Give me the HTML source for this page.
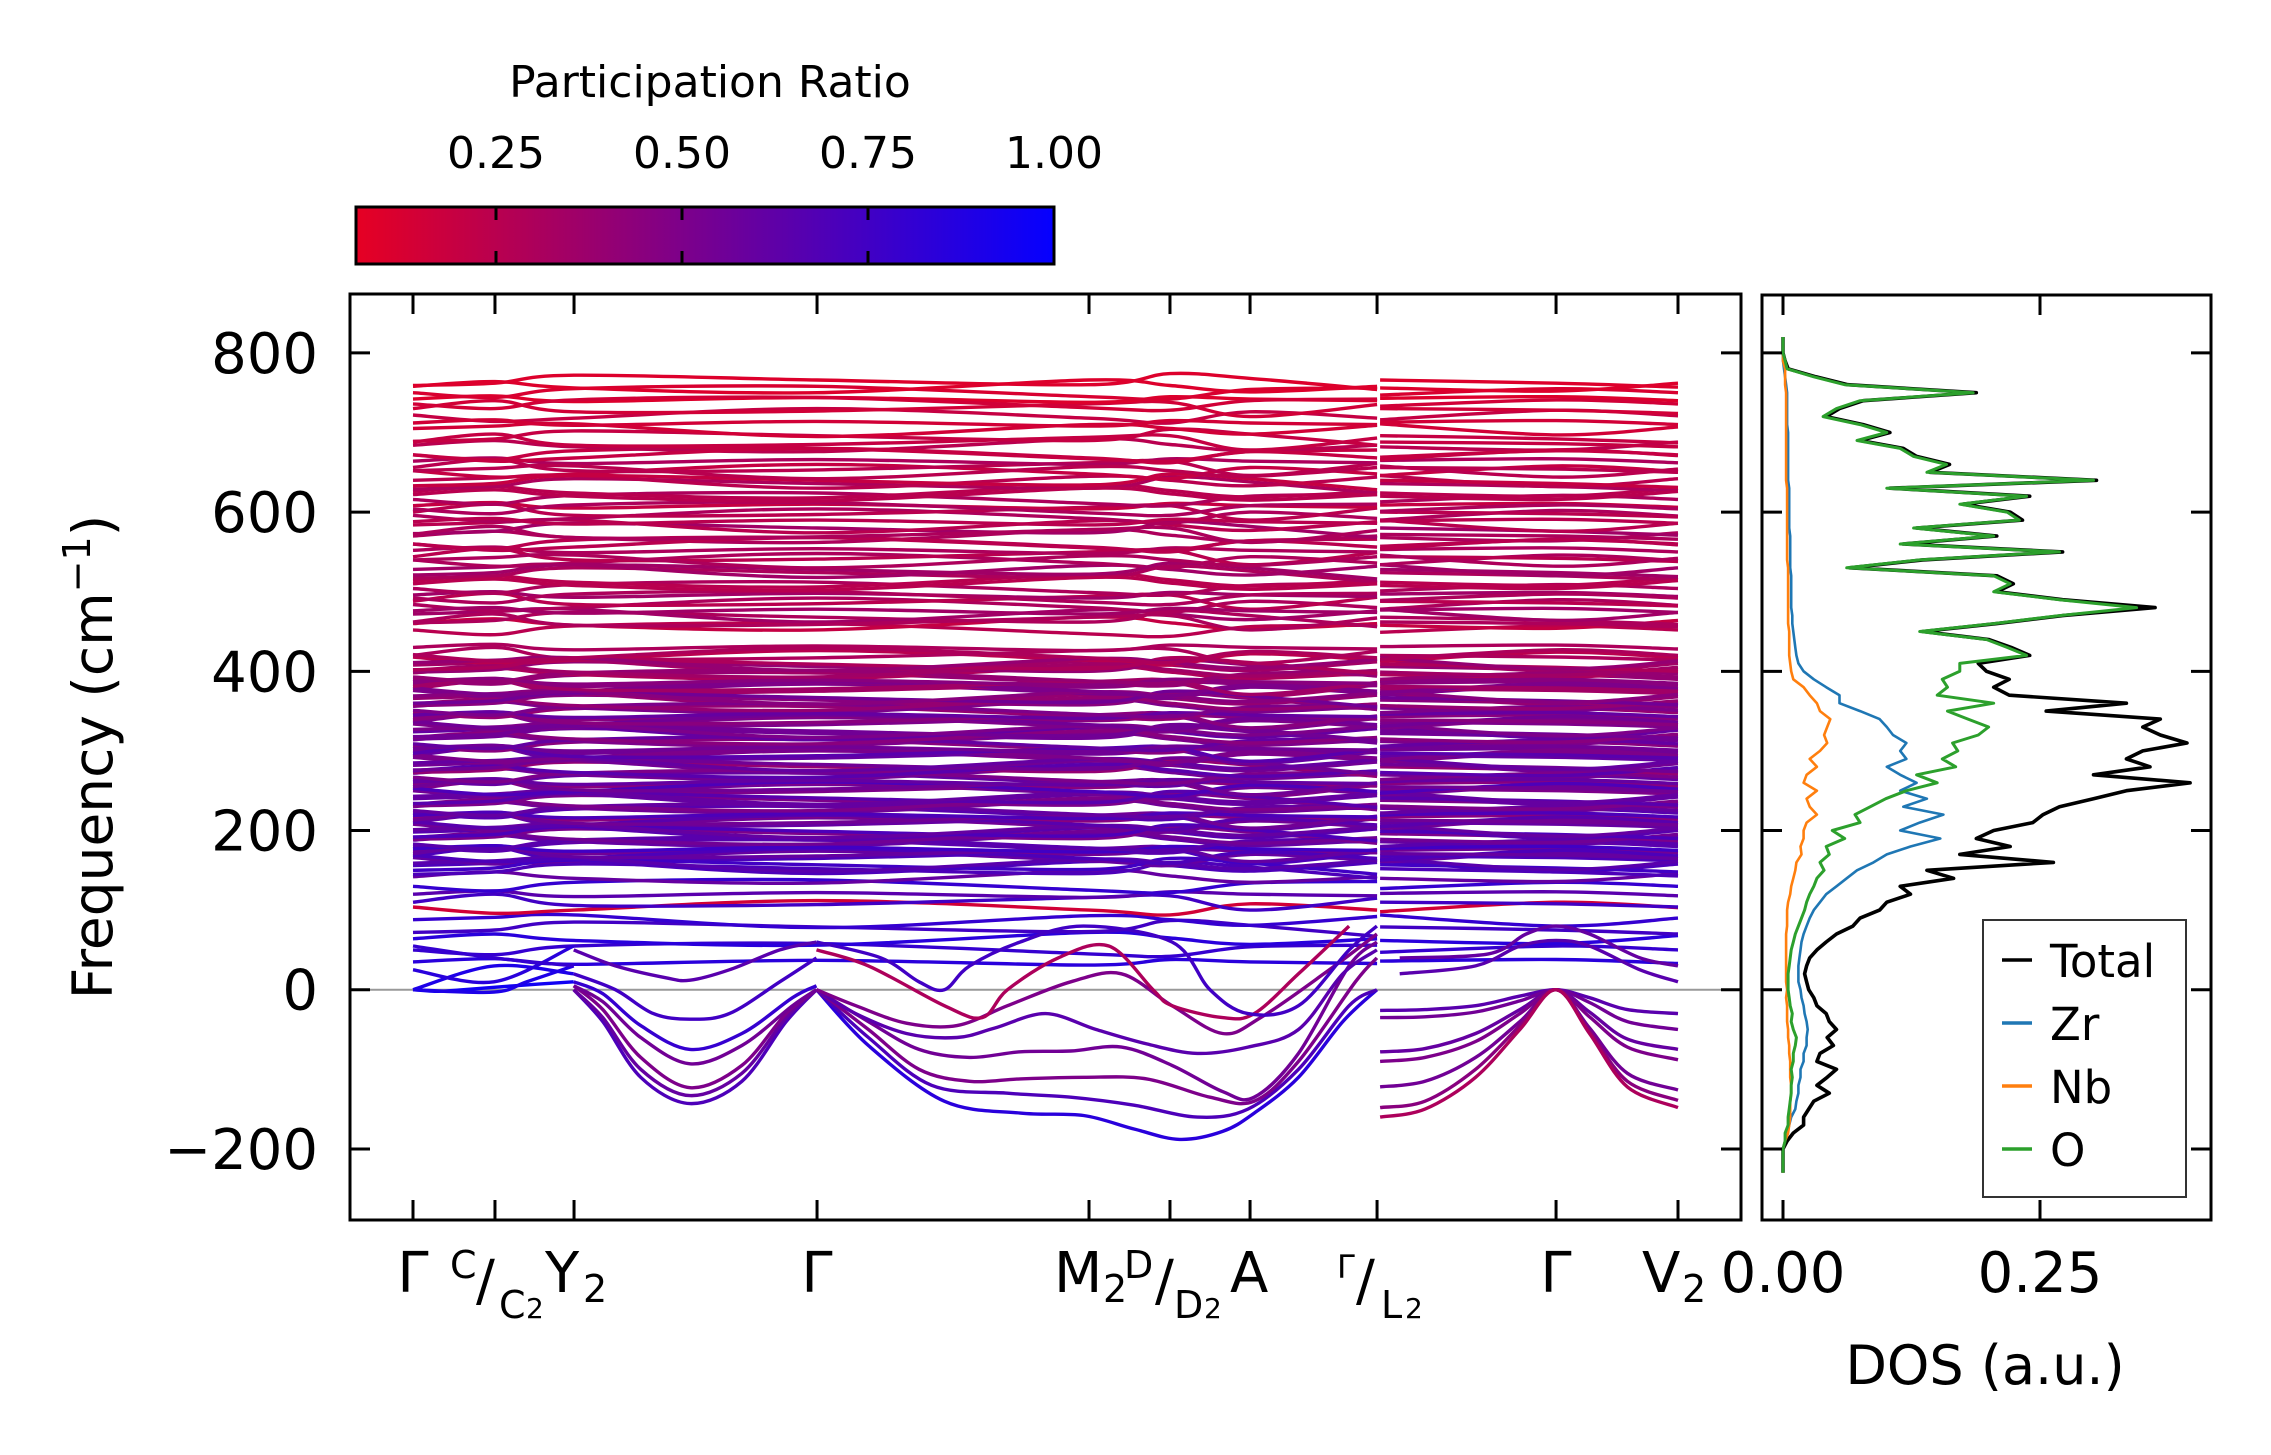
<!DOCTYPE html>
<html><head><meta charset="utf-8"><style>
html,body{margin:0;padding:0;background:#fff}
svg{display:block}
text{font-family:"DejaVu Sans","Liberation Sans",sans-serif;fill:#000}
</style></head><body>
<svg id="fig" width="2271" height="1455" viewBox="0 0 2271 1455" xmlns="http://www.w3.org/2000/svg">
<defs>
<clipPath id="mainClip"><rect x="350" y="294" width="1391" height="926"/></clipPath>
<clipPath id="dosClip"><rect x="1762" y="295" width="449" height="925"/></clipPath>
<linearGradient id="cbGrad" x1="0" x2="1" y1="0" y2="0"></linearGradient>
</defs>
<g id="colorbar">
<text x="710" y="97" font-size="44" text-anchor="middle">Participation Ratio</text>
<rect x="356" y="207" width="698" height="57" fill="url(#cbGrad)" stroke="#000" stroke-width="3"/>
<g id="cbTicks"></g>
</g>
<g id="mainAxes">
<line x1="350" y1="989.8" x2="1741" y2="989.8" stroke="#999" stroke-width="2"/>
<g id="bands" clip-path="url(#mainClip)"></g>
<rect x="350" y="294" width="1391" height="926" fill="none" stroke="#000" stroke-width="3"/>
<g id="mainTicks"></g>
<g id="xLabels" font-size="56">
<text x="413" y="1292" text-anchor="middle">Γ</text>
<g><text x="450" y="1278" font-size="38">C</text><text x="476" y="1300">/</text><text x="499" y="1318" font-size="38">C</text><text x="526" y="1318" font-size="28">2</text></g>
<g><text x="545" y="1292">Y</text><text x="583" y="1302" font-size="38">2</text></g>
<text x="817" y="1292" text-anchor="middle">Γ</text>
<g><text x="1054" y="1292">M</text><text x="1103" y="1302" font-size="38">2</text></g>
<g><text x="1124" y="1278" font-size="38">D</text><text x="1155" y="1300">/</text><text x="1174" y="1318" font-size="38">D</text><text x="1204" y="1318" font-size="28">2</text></g>
<text x="1230" y="1292">A</text>
<g><text x="1337" y="1278" font-size="32">Γ</text><text x="1356" y="1300">/</text><text x="1381" y="1318" font-size="38">L</text><text x="1405" y="1318" font-size="28">2</text></g>
<text x="1556" y="1292" text-anchor="middle">Γ</text>
<g><text x="1642" y="1292">V</text><text x="1682" y="1302" font-size="38">2</text></g>
</g>
<text transform="translate(112,757) rotate(-90)" font-size="55" text-anchor="middle">Frequency (cm<tspan dy="-22" font-size="38">−1</tspan><tspan dy="22">)</tspan></text>
</g>
<g id="dosAxes">
<g id="dosLines" clip-path="url(#dosClip)"></g>
<rect x="1762" y="295" width="449" height="925" fill="none" stroke="#000" stroke-width="3"/>
<g id="dosTicks"></g>
<text x="1985" y="1384" font-size="54" text-anchor="middle">DOS (a.u.)</text>
<g id="legend">
<rect x="1983" y="920" width="203" height="277" fill="#fff" stroke="#333" stroke-width="2"/>
</g>
</g>
</svg>
<script>
// ---------- data ----------
const kNodes = [0, 0.0648, 0.1273, 0.3194, 0.5344, 0.5984, 0.6617, 0.7621, 0.7645, 0.9036, 1];
const kTicks = [0, 0.0648, 0.1273, 0.3194, 0.5344, 0.5984, 0.6617, 0.7621, 0.9036, 1];
const yTickValues = [-200, 0, 200, 400, 600, 800];
const yTickLabels = ["\u2212200", "0", "200", "400", "600", "800"];
const cbTickValues = [0.25, 0.5, 0.75, 1.0];
const cbTickLabels = ["0.25", "0.50", "0.75", "1.00"];
const bandBase = [
  35,50,62,75,88,100,110,120,130,140,148,
  156,162,168,174,180,186,192,198,204,210,216,222,228,234,240,
  246,252,258,264,270,276,282,288,294,300,306,312,318,324,330,
  336,342,348,354,360,366,372,378,384,390,396,402,408,414,420,
  430,452,458,464,472,480,488,496,504,512,520,528,536,544,552,
  560,568,576,584,592,600,608,616,624,632,640,648,656,664,672,
  682,692,705,718,730,742,750,756,762
];
const bandPR = [
  .85,.8,.85,.75,.8,.15,.75,.65,.8,.6,.7,
  .7,.6,.7,.55,.65,.6,.5,.65,.55,.6,.45,.65,.55,.5,.6,
  .55,.5,.45,.6,.55,.4,.55,.5,.6,.55,.45,.5,.55,.6,.5,
  .5,.45,.4,.5,.45,.4,.5,.35,.45,.4,.3,.4,.35,.25,.3,
  .3,.25,.2,.3,.35,.3,.25,.35,.3,.25,.3,.35,.3,.25,.3,
  .25,.3,.35,.25,.3,.25,.2,.3,.25,.3,.25,.2,.25,.3,.2,
  .25,.2,.15,.2,.15,.1,.12,.1,.1
];
const bandBase2 = [
  153,159,165,171,177,183,189,195,201,207,213,219,225,231,237,
  243,249,255,261,267,273,279,285,291,297,303,309,315,321,327,
  333,339,345,351,357,363,369,375,381,387,393,399,405,411,417,
  462,476,492,508,524,540,556,572,588,604,620,636,652,668,688,712,736
];
const bandPR2 = [
  .75,.65,.7,.6,.75,.65,.55,.7,.6,.65,.55,.7,.6,.5,.65,
  .6,.7,.55,.6,.5,.65,.55,.6,.5,.65,.55,.6,.45,.55,.5,
  .55,.45,.6,.5,.4,.55,.45,.5,.35,.45,.4,.35,.3,.4,.3,
  .3,.35,.3,.25,.35,.3,.25,.3,.25,.3,.25,.2,.25,.2,.2,.15,.15
];
const wigglePatterns = [
  [0,4,-3,2,-4,3,0,-2,1,3,-2],
  [0,-6,5,8,-5,-8,4,6,-3,5,0],
  [2,8,0,-6,10,3,-5,2,0,-4,6],
  [-3,0,10,4,-2,12,6,-8,4,0,-5],
  [0,3,6,-10,5,0,-7,4,6,-8,2],
  [4,-4,0,12,0,-6,8,0,-2,10,3],
  [0,10,-4,-3,6,8,-10,5,0,-2,-6]
];
const softBands = [
  [[.127,0],[.15,-40],[.18,-110],[.219,-143],[.26,-115],[.295,-40],[.319,0]],
  [[.127,0],[.15,-35],[.18,-100],[.219,-133],[.26,-105],[.295,-35],[.319,0]],
  [[.127,5],[.15,-25],[.18,-85],[.219,-123],[.26,-95],[.295,-30],[.319,0]],
  [[.127,5],[.15,-15],[.18,-60],[.219,-93],[.26,-70],[.30,-20],[.319,0]],
  [[.127,10],[.15,-5],[.18,-45],[.219,-75],[.26,-55],[.30,-10],[.319,5]],
  [[.127,20],[.16,0],[.19,-30],[.219,-37],[.25,-30],[.29,10],[.319,40]],
  [[.127,50],[.16,30],[.20,15],[.219,12],[.25,25],[.29,50],[.319,60]],
  [[.319,0],[.36,-70],[.42,-140],[.48,-155],[.53,-158],[.57,-175],[.606,-188],[.64,-178],[.665,-155],[.70,-110],[.735,-40],[.762,0]],
  [[.319,0],[.36,-60],[.41,-120],[.47,-130],[.52,-135],[.57,-145],[.62,-160],[.66,-150],[.70,-100],[.74,-20],[.762,0]],
  [[.319,0],[.36,-50],[.40,-100],[.44,-115],[.48,-112],[.53,-110],[.58,-112],[.63,-135],[.665,-140],[.70,-90],[.745,10],[.762,40]],
  [[.319,0],[.36,-40],[.40,-75],[.44,-85],[.48,-78],[.52,-77],[.56,-72],[.60,-95],[.64,-128],[.665,-135],[.70,-80],[.74,30],[.762,60]],
  [[.319,0],[.35,-30],[.39,-55],[.43,-60],[.46,-48],[.50,-30],[.54,-50],[.58,-68],[.62,-80],[.66,-72],[.70,-50],[.735,20],[.762,50]],
  [[.319,0],[.35,-20],[.39,-42],[.43,-45],[.47,-20],[.52,10],[.56,20],[.60,-20],[.64,-55],[.67,-35],[.72,20],[.762,70]],
  [[.319,50],[.36,30],[.42,-20],[.45,-35],[.47,0],[.51,40],[.55,55],[.585,0],[.60,-20],[.64,-35],[.665,-30],[.70,20],[.74,80]],
  [[.319,60],[.37,40],[.40,10],[.42,0],[.44,30],[.48,60],[.53,80],[.60,60],[.63,0],[.66,-30],[.70,-20],[.74,50],[.762,80]],
  [[0,0],[.02,-2],[.04,0],[.08,5],[.127,10]],
  [[0,0],[.064,30],[.127,20]],
  [[0,0],[.064,-3],[.09,10],[.127,30]],
  [[0,25],[.064,10],[.127,55]],
  [[0,55],[.064,40],[.127,30]],
  [[.7645,-26],[.80,-25],[.84,-20],[.875,-8],[.9036,0],[.93,-10],[.96,-25],[1,-30]],
  [[.7645,-35],[.80,-34],[.84,-28],[.875,-14],[.9036,0],[.93,-16],[.96,-40],[1,-50]],
  [[.7645,-78],[.80,-74],[.84,-55],[.875,-25],[.9036,0],[.93,-28],[.96,-62],[1,-75]],
  [[.7645,-90],[.80,-85],[.84,-65],[.875,-30],[.9036,0],[.93,-34],[.96,-72],[1,-88]],
  [[.7645,-122],[.80,-115],[.84,-85],[.875,-40],[.9036,0],[.93,-48],[.96,-105],[1,-126]],
  [[.7645,-148],[.80,-140],[.84,-100],[.875,-45],[.9036,0],[.93,-52],[.96,-115],[1,-139]],
  [[.7645,-160],[.80,-150],[.84,-110],[.875,-50],[.9036,0],[.93,-55],[.96,-122],[1,-148]],
  [[.78,20],[.84,30],[.875,55],[.9036,62],[.93,55],[.97,25],[1,10]],
  [[.78,40],[.85,45],[.88,70],[.9036,80],[.93,70],[.97,40],[1,30]]
];
const softPR = [.7,.6,.5,.55,.8,.75,.65,.85,.7,.5,.55,.65,.5,.3,.75,.95,.9,.9,.85,.8,.65,.55,.6,.5,.55,.45,.3,.65,.6];
const dosFreqStart = -230;
const dosFreqStep = 10;
const dosTotal = [0,0,0,0,
 .004,.010,.020,.020,.025,.030,.045,.033,.043,.052,
 .033,.036,.049,.043,.052,.045,.042,.033,.030,.025,
 .023,.021,.023,.026,.033,.042,.052,.068,.075,.094,
 .101,.124,.114,.166,.140,.263,.172,.221,.188,.205,
 .243,.253,.269,.302,.334,.396,.302,.357,.334,.350,
 .393,.367,.350,.367,.256,.334,.220,.205,.220,.198,
 .190,.240,.222,.200,.136,.208,.272,.362,.272,.208,
 .224,.208,.065,.136,.272,.117,.208,.130,.233,.221,
 .175,.240,.104,.305,.143,.162,.130,.117,.075,.104,
 .078,.042,.055,.078,.188,.063,.032,.005,.002,0,
 0,0];
const dosZr = [0,0,0,0,
 .002,.004,.006,.008,.012,.013,.015,.015,.017,.017,
 .020,.020,.023,.023,.024,.023,.021,.020,.018,.017,
 .015,.015,.015,.016,.017,.018,.020,.023,.026,.030,
 .036,.042,.052,.062,.072,.088,.101,.124,.153,.114,
 .133,.156,.117,.140,.114,.130,.114,.101,.120,.114,
 .120,.107,.101,.094,.075,.055,.055,.042,.030,.020,
 .015,.013,.012,.011,.010,.009,.009,.008,.008,.008,
 .008,.008,.007,.007,.007,.007,.007,.006,.006,.006,
 .006,.006,.006,.005,.005,.005,.005,.005,.005,.005,
 .004,.004,.004,.004,.004,.003,.002,.001,0,0,
 0,0];
const dosNb = [0,0,0,0,
 .002,.005,.006,.007,.007,.007,.008,.008,.007,.007,
 .007,.006,.006,.005,.005,.004,.004,.004,.003,.004,
 .003,.003,.003,.003,.003,.003,.003,.004,.004,.004,
 .005,.007,.008,.010,.012,.013,.018,.017,.020,.020,
 .023,.033,.026,.023,.033,.020,.023,.033,.026,.036,
 .043,.040,.043,.046,.036,.033,.026,.020,.010,.008,
 .007,.006,.006,.006,.006,.005,.005,.005,.005,.005,
 .005,.005,.005,.004,.004,.004,.004,.004,.004,.004,
 .004,.004,.004,.003,.003,.003,.003,.003,.003,.003,
 .003,.003,.003,.003,.003,.002,.002,.002,0,0,
 0,0];
const dosO = [0,0,0,0,
 .002,.002,.005,.005,.006,.007,.008,.008,.009,.008,
 .010,.010,.012,.013,.010,.008,.009,.007,.006,.005,
 .005,.005,.006,.007,.008,.010,.012,.015,.018,.021,
 .023,.026,.030,.033,.040,.036,.045,.042,.060,.048,
 .075,.070,.085,.100,.120,.150,.130,.168,.155,.170,
 .165,.190,.200,.180,.160,.205,.150,.160,.155,.172,
 .172,.237,.218,.198,.133,.205,.269,.344,.269,.205,
 .221,.205,.062,.133,.269,.114,.205,.127,.230,.218,
 .172,.237,.101,.302,.140,.159,.127,.114,.072,.101,
 .075,.039,.052,.075,.185,.060,.030,.004,.002,0,
 0,0];
const dosSeriesNames = ["Total", "Zr", "Nb", "O"];
const dosTickValues = [0, 0.25];
const dosTickLabels = ["0.00", "0.25"];

// ---------- scales ----------
const NS = "http://www.w3.org/2000/svg";
const xK = k => 413 + k * 1265;
const yF = f => 294 + (874 - f) * (925 / 1162);
const xD = v => 1783 + v * 1028;
const xCB = t => 1054 - (1 - t) * 744;
function prColor(t) {
  const r = Math.round(245 * (1 - t) + 5 * t);
  const b = Math.round(20 * (1 - t) + 255 * t);
  return "rgb(" + r + ",0," + b + ")";
}
function mk(tag, attrs, parent) {
  const el = document.createElementNS(NS, tag);
  for (const a in attrs) el.setAttribute(a, attrs[a]);
  parent.appendChild(el);
  return el;
}
function splinePath(pts) {
  if (pts.length < 2) return "";
  let d = "M" + pts[0][0].toFixed(1) + "," + pts[0][1].toFixed(1);
  for (let i = 0; i < pts.length - 1; i++) {
    const p0 = pts[Math.max(0, i - 1)], p1 = pts[i], p2 = pts[i + 1], p3 = pts[Math.min(pts.length - 1, i + 2)];
    const c1x = p1[0] + (p2[0] - p0[0]) / 6, c1y = p1[1] + (p2[1] - p0[1]) / 6;
    const c2x = p2[0] - (p3[0] - p1[0]) / 6, c2y = p2[1] - (p3[1] - p1[1]) / 6;
    d += "C" + c1x.toFixed(1) + "," + c1y.toFixed(1) + " " + c2x.toFixed(1) + "," + c2y.toFixed(1) + " " + p2[0].toFixed(1) + "," + p2[1].toFixed(1);
  }
  return d;
}

// ---------- colorbar ----------
const grad = document.getElementById("cbGrad");
[0.062, 0.25, 0.5, 0.75, 1].forEach(t => {
  mk("stop", {offset: ((t - 0.062) / (1 - 0.062)), "stop-color": prColor(t)}, grad);
});
const cbT = document.getElementById("cbTicks");
cbTickValues.forEach((v, i) => {
  const x = xCB(v);
  if (v < 1) {
    const t1 = mk("line", {x1: x, x2: x, y1: 207, y2: 220, stroke: "#000", "stroke-width": 3}, cbT);
    
    
    const t2 = mk("line", {x1: x, x2: x, y1: 251, y2: 264, stroke: "#000", "stroke-width": 3}, cbT);
    
    
  }
  const lb = mk("text", {x: x, y: 168, "font-size": 44, "text-anchor": "middle"}, cbT);
  lb.textContent = cbTickLabels[i];
  
  
});

// ---------- bands ----------
const bandsG = document.getElementById("bands");
function drawFlatBand(base, pr, pat) {
  const segA = [], segB = [];
  for (let j = 0; j < kNodes.length; j++) {
    const p = [xK(kNodes[j]), yF(base + pat[j])];
    if (j <= 7) segA.push(p); else segB.push(p);
  }
  const path = mk("path", {d: splinePath(segA) + splinePath(segB), fill: "none", stroke: prColor(pr), "stroke-width": 3.4}, bandsG);
  
  
}
bandBase.forEach((base, i) => drawFlatBand(base, bandPR[i], wigglePatterns[i % wigglePatterns.length]));
bandBase2.forEach((base, i) => drawFlatBand(base, bandPR2[i], wigglePatterns[(i + 3) % wigglePatterns.length]));
softBands.forEach((pts, i) => {
  const sp = pts.map(p => [xK(p[0]), yF(p[1])]);
  const path = mk("path", {d: splinePath(sp), fill: "none", stroke: prColor(softPR[i]), "stroke-width": 3.4}, bandsG);
  
  
});

// ---------- main ticks ----------
const mt = document.getElementById("mainTicks");
yTickValues.forEach((v, i) => {
  const y = yF(v);
  const l = mk("line", {x1: 350, x2: 370, y1: y, y2: y, stroke: "#000", "stroke-width": 3}, mt);
  
  
  const r = mk("line", {x1: 1721, x2: 1741, y1: y, y2: y, stroke: "#000", "stroke-width": 3}, mt);
  
  
  const t = mk("text", {x: 318, y: y + 20, "font-size": 56, "text-anchor": "end"}, mt);
  t.textContent = yTickLabels[i];
  
  
});
kTicks.forEach(k => {
  const x = xK(k);
  const a = mk("line", {x1: x, x2: x, y1: 294, y2: 314, stroke: "#000", "stroke-width": 3}, mt);
  
  
  const b = mk("line", {x1: x, x2: x, y1: 1200, y2: 1220, stroke: "#000", "stroke-width": 3}, mt);
  
  
});

// ---------- DOS ----------
const dosG = document.getElementById("dosLines");
const dosData = [dosTotal, dosZr, dosNb, dosO];
const dosColors = ["#000000", "#1f77b4", "#ff7f0e", "#2ca02c"];
const dosWidths = [3.6, 2.6, 2.6, 3];
dosData.forEach((series, s) => {
  const pts = series.map((v, i) => xD(v).toFixed(1) + "," + yF(dosFreqStart + i * dosFreqStep).toFixed(1)).join(" ");
  const pl = mk("polyline", {points: pts, fill: "none", stroke: dosColors[s], "stroke-width": dosWidths[s], "stroke-linejoin": "round"}, dosG);
  
  
});
const dt = document.getElementById("dosTicks");
yTickValues.forEach(v => {
  const y = yF(v);
  const l = mk("line", {x1: 1762, x2: 1782, y1: y, y2: y, stroke: "#000", "stroke-width": 3}, dt);
  
  
  const r = mk("line", {x1: 2191, x2: 2211, y1: y, y2: y, stroke: "#000", "stroke-width": 3}, dt);
  
  
});
dosTickValues.forEach((v, i) => {
  const x = xD(v);
  const a = mk("line", {x1: x, x2: x, y1: 295, y2: 315, stroke: "#000", "stroke-width": 3}, dt);
  
  
  const b = mk("line", {x1: x, x2: x, y1: 1200, y2: 1220, stroke: "#000", "stroke-width": 3}, dt);
  
  
  const t = mk("text", {x: x, y: 1292, "font-size": 56, "text-anchor": "middle"}, dt);
  t.textContent = dosTickLabels[i];
  
  
});

// ---------- legend ----------
const lg = document.getElementById("legend");
const legendRowsY = [960, 1023, 1086, 1149];
dosSeriesNames.forEach((name, i) => {
  const y = legendRowsY[i];
  const l = mk("line", {x1: 2002, x2: 2032, y1: y, y2: y, stroke: dosColors[i], "stroke-width": 3.5}, lg);
  
  
  const t = mk("text", {x: 2050, y: y + 17, "font-size": 45}, lg);
  t.textContent = name;
  
  
});
</script>
</body></html>
